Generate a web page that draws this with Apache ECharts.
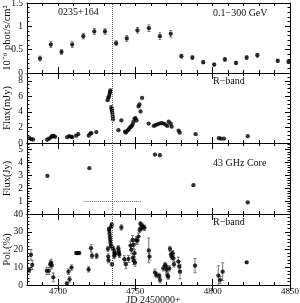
<!DOCTYPE html>
<html><head><meta charset="utf-8">
<script src="https://cdn.jsdelivr.net/npm/echarts@6/dist/echarts.min.js"></script>
<style>html,body{margin:0;padding:0;background:#fff}#c{width:300px;height:303px}</style>
</head><body><div id="c"></div>
<script>
// ---- Data ----
const gammaJD   = [4688.4,4695.4,4702.3,4709.2,4716.4,4723.5,4730.4,4737.6,4744.5,4751.4,4758.8,4765.9,4772.9,4779.8,4786.9,4793.9,4801.0,4807.9,4815.1,4822.0,4828.9,4842.1,4849.0];
const gammaFlux = [0.31,0.61,0.45,0.61,0.79,0.89,0.89,0.64,0.74,0.915,0.96,0.79,0.84,0.36,0.33,0.23,0.18,0.29,0.215,0.33,0.38,0.26,0.24];
const gammaErr  = [0.05,0.06,0.05,0.06,0.06,0.06,0.06,0.05,0.06,0.06,0.07,0.07,0.07,0.04,0.04,0.03,0.03,0.04,0.035,0.04,0.04,0.035,0.035];

const rJD = [4681.6,4682.6,4683.9, 4693.0,4694.3,4695.6,4696.2,4697.2,4698.2, 4706.0,4707.3,4708.6,4709.2, 4711.8,4713.1, 4719.9,4720.9,4721.6, 4724.8,
  4732.1,4732.6,4733.0,4733.4,4733.7,4733.9, 4734.5,4734.7,4735.0,4735.2,4735.4,4735.6,
  4739.1,4741.0,4743.4,4743.9,4744.9,4745.6,4746.2,4746.9,4747.5,4748.2,4748.8,4749.5,4750.1,4750.8,4752.1,4752.7,4753.4,4754.4,4758.6,
  4762.0,4763.1,4764.4,4765.7,4767.0,4768.3,4769.6,4770.7,4771.6,4772.9,4773.5,
  4778.0,4778.7,4789.0,4804.0,4805.3,4807.3,4822.7];
const rFlux = [0.62,0.5,0.45, 0.42,0.55,0.75,0.9,0.9,0.8, 0.75,0.88,0.8,0.75, 0.94,1.14, 0.94,1.2,1.26, 1.4,
  5.5,5.8,6.0,6.3,6.55,6.75, 4.6,4.35,4.1,3.8,3.4,3.05,
  1.65,2.9,1.45,1.33,1.6,1.7,1.9,2.05,2.15,2.35,2.7,3.1,3.2,2.9,4.7,4.95,4.05,5.8,2.5,
  2.2,2.3,2.4,2.5,2.55,2.5,2.35,2.2,2.75,2.5,2.1,
  1.6,1.33,1.14,0.62,0.55,0.55,0.88];

const coreJD   = [4693.2,4720.3,4762.7,4765.9,4787.6,4822.7];
const coreFlux = [2.95,3.55,4.6,4.55,2.23,0.9];

const polJD  = [4681.5,4682.6,4683.4,4692.8,4694.1,4695.0,4695.6,4696.0,4697.0,4705.8,4706.8,4707.5,4708.8,4711.8,4712.9,4713.8,4719.8,4721.4,4722.0,4725.0,
  4732.3,4732.5,4732.7,4733.0,4733.2,4733.4,4733.6,4733.8,4734.0,4734.2,4734.5,4734.8,4735.0,4735.3,4736.0,4736.3,4736.6,4737.0,4739.0,4739.2,4739.5,4739.7,
  4741.0,4742.9,4743.9,4745.6,4746.9,4747.5,4748.2,4748.5,4748.9,4749.0,4749.5,4749.8,4750.5,4751.3,4752.1,4752.8,4753.3,4753.9,4754.3,4755.0,4756.0,4758.7,4759.2,
  4762.7,4763.8,4765.5,4766.0,4768.1,4769.2,4769.9,4770.3,4770.7,4771.3,4772.0,4772.4,4773.1,4773.5,4774.2,4774.6,4775.0,4777.8,4778.5,4778.9,4788.6,4803.7,4804.8,4806.5,4822.0];
const polVal = [8.5,17.0,11.3,8.0,8.0,11.7,12.5,11.0,4.3,0.8,7.5,3.2,9.8,18.0,18.0,18.0,8.8,20.7,16.5,16.4,
  20.3,16.0,14.0,31.6,30.5,28.8,27.0,25.4,23.7,22.0,33.0,34.0,11.7,20.9,19.8,16.4,18.0,17.5,20.7,19.2,18.0,17.0,
  32.4,14.5,11.7,14.7,22.2,19.8,25.4,15.4,22.6,13.6,17.9,12.6,25.4,24.9,27.3,31.0,34.5,32.0,33.3,32.8,32.2,19.5,16.0,
  7.0,5.6,5.1,2.8,9.4,11.3,10.3,8.5,5.6,4.7,9.4,20.3,17.3,16.0,17.9,15.1,11.7,13.2,10.3,7.5,10.9,5.3,2.8,7.5,12.8];
const polErr = [1.5,3.0,2.5,2.0,2.0,2.0,2.0,2.0,2.5,1.0,1.5,1.5,1.5,0.8,0.8,0.8,1.5,2.0,1.5,1.5,
  1.5,1.5,1.5,1.0,1.0,1.0,1.0,1.0,1.0,1.0,1.0,1.0,1.0,1.5,1.5,1.5,1.5,1.5,1.5,1.5,1.5,1.5,
  1.5,2.0,2.5,2.0,2.5,2.0,2.5,2.0,2.0,2.0,2.0,2.0,2.0,2.0,2.0,1.5,1.0,1.5,1.5,1.5,1.5,7.0,2.0,
  2.0,1.5,1.5,1.5,1.5,1.5,1.5,1.5,1.5,1.5,1.5,1.5,1.5,1.5,1.5,1.5,1.5,2.5,3.0,4.0,4.0,5.5,2.0,5.0,0.5];

const xTickLabels = [4700,4750,4800,4850];
const flareJD = 4735.2;
const coreLineY = 1, coreLineFrom = 4717, coreLineTo = 4754;

// ---- Layout / style ----
const FONT = 'Liberation Serif';
const X_MIN = 4680, X_MAX = 4850;
const grids = [{top:3,height:70},{top:73,height:70},{top:143,height:71},{top:214,height:71}];
const yCfg = [
  {min:0,max:1.5,interval:0.5,split:5,name:'10\u207B\u2076 phot/s/cm\u00B2'},
  {min:0,max:9,interval:2,split:4,name:'Flux(mJy)'},
  {min:0,max:5.5,interval:1,split:5,name:'Flux(Jy)'},
  {min:0,max:40,interval:10,split:5,name:'Pol.(%)'}
];
const black = '#000';
const labelStyle = {fontFamily:FONT,fontSize:9.5,color:'#111'};

const xAxes = [], yAxes = [];
grids.forEach((g,i)=>{
  const base = {type:'value',gridIndex:i,min:X_MIN,max:X_MAX,interval:10,
    axisLine:{show:true,onZero:false,lineStyle:{color:black,width:1}},
    splitLine:{show:false},nameMoveOverlap:false};
  xAxes.push(Object.assign({},base,{position:'bottom',
    axisTick:{show:true,inside:true,length:3,lineStyle:{color:black}},
    axisLabel:{show:false},
    name: i===3 ? 'JD 2450000+' : '', nameLocation:'middle', nameGap:10,
    nameTextStyle:{fontFamily:FONT,fontSize:10,color:'#111',verticalAlign:'top',padding:[0,10,0,0]}}));
  xAxes.push(Object.assign({},base,{position:'top',
    axisTick:{show:true,inside:true,length:3,lineStyle:{color:black}},
    axisLabel:{show:false}}));
  xAxes.push(Object.assign({},base,{position:'bottom',axisLine:{show:false},
    axisTick:{show:true,inside:true,length:6,customValues:xTickLabels,lineStyle:{color:black}},
    axisLabel:{show:i===3,customValues:xTickLabels,margin:2,formatter:(v)=>String(v),
      fontFamily:FONT,fontSize:9,color:'#111'}}));
  xAxes.push(Object.assign({},base,{position:'top',axisLine:{show:false},
    axisTick:{show:true,inside:true,length:6,customValues:xTickLabels,lineStyle:{color:black}},
    axisLabel:{show:false}}));

  const c = yCfg[i];
  const yb = {type:'value',gridIndex:i,min:c.min,max:c.max,interval:c.interval,
    axisLine:{show:true,onZero:false,lineStyle:{color:black,width:1}},
    axisTick:{show:true,inside:true,length:5,lineStyle:{color:black}},
    minorTick:{show:true,splitNumber:c.split,length:2.5,lineStyle:{color:black}},
    splitLine:{show:false},nameMoveOverlap:false};
  yAxes.push(Object.assign({},yb,{position:'left',
    axisLabel:{show:true,margin:4,showMaxLabel:i===0||i===3,...labelStyle,
      formatter:(v)=>{ if(i===2 && (v===0 || v%1!==0)) return ''; if(i===1 && v===9) return ''; return String(v);} },
    name:c.name,nameLocation:'middle',nameGap:14,nameRotate:90,
    nameTextStyle:{fontFamily:FONT,fontSize:10.5,color:'#111'}}));
  yAxes.push(Object.assign({},yb,{position:'right',axisLabel:{show:false}}));
});

function errItem(params, api){
  const x=api.value(0), y=api.value(1), e=api.value(2);
  const lo=api.coord([x,y-e]), hi=api.coord([x,y+e]);
  const c=1.5;
  const style={stroke:'#777',lineWidth:1};
  return {type:'group',children:[
    {type:'line',shape:{x1:lo[0],y1:lo[1],x2:hi[0],y2:hi[1]},style},
    {type:'line',shape:{x1:lo[0]-c,y1:lo[1],x2:lo[0]+c,y2:lo[1]},style},
    {type:'line',shape:{x1:hi[0]-c,y1:hi[1],x2:hi[0]+c,y2:hi[1]},style}
  ]};
}
const vLine = {symbol:'none',silent:true,label:{show:false},animation:false,
  lineStyle:{type:'dotted',color:'#666',width:1},data:[{xAxis:flareJD}]};

const zip2 = (a,b)=>a.map((v,k)=>[v,b[k]]);
const zip3 = (a,b,c)=>a.map((v,k)=>[v,b[k],c[k]]);
const sc = (i,data,extra)=>Object.assign({type:'scatter',xAxisIndex:4*i,yAxisIndex:2*i,data,
  symbol:'circle',symbolSize:4.3,itemStyle:{color:'#000'},clip:true,animation:false},extra||{});
const eb = (i,data)=>({type:'custom',xAxisIndex:4*i,yAxisIndex:2*i,data,renderItem:errItem,
  encode:{x:0,y:1},clip:true,animation:false,silent:true});

const series = [
  eb(0,zip3(gammaJD,gammaFlux,gammaErr)),
  sc(0,zip2(gammaJD,gammaFlux),{markLine:vLine}),
  sc(1,zip2(rJD,rFlux),{markLine:vLine}),
  sc(2,zip2(coreJD,coreFlux),{markLine:Object.assign({},vLine,{data:[{xAxis:flareJD},
    [{coord:[coreLineFrom,coreLineY]},{coord:[coreLineTo,coreLineY]}]]})}),
  eb(3,zip3(polJD,polVal,polErr)),
  sc(3,zip2(polJD,polVal),{markLine:vLine})
];

const txt = (x,y,t)=>({type:'text',left:x,top:y,style:{text:t,font:'10px "Liberation Serif"',fill:'#111'}});
const option = {
  animation:false,
  grid: grids.map(g=>({left:27,right:10,top:g.top,height:g.height,containLabel:false,outerBoundsMode:'none'})),
  xAxis:xAxes, yAxis:yAxes, series,
  graphic:[
    txt(58,7,'0235+164'),
    txt(213,8,'0.1\u2212300 GeV'),
    txt(213,76,'R\u2212band'),
    txt(213,158,'43 GHz Core'),
    txt(213,217,'R\u2212band')
  ]
};
const chart = echarts.init(document.getElementById('c'),null,{renderer:'canvas'});
chart.setOption(option);
</script></body></html>
